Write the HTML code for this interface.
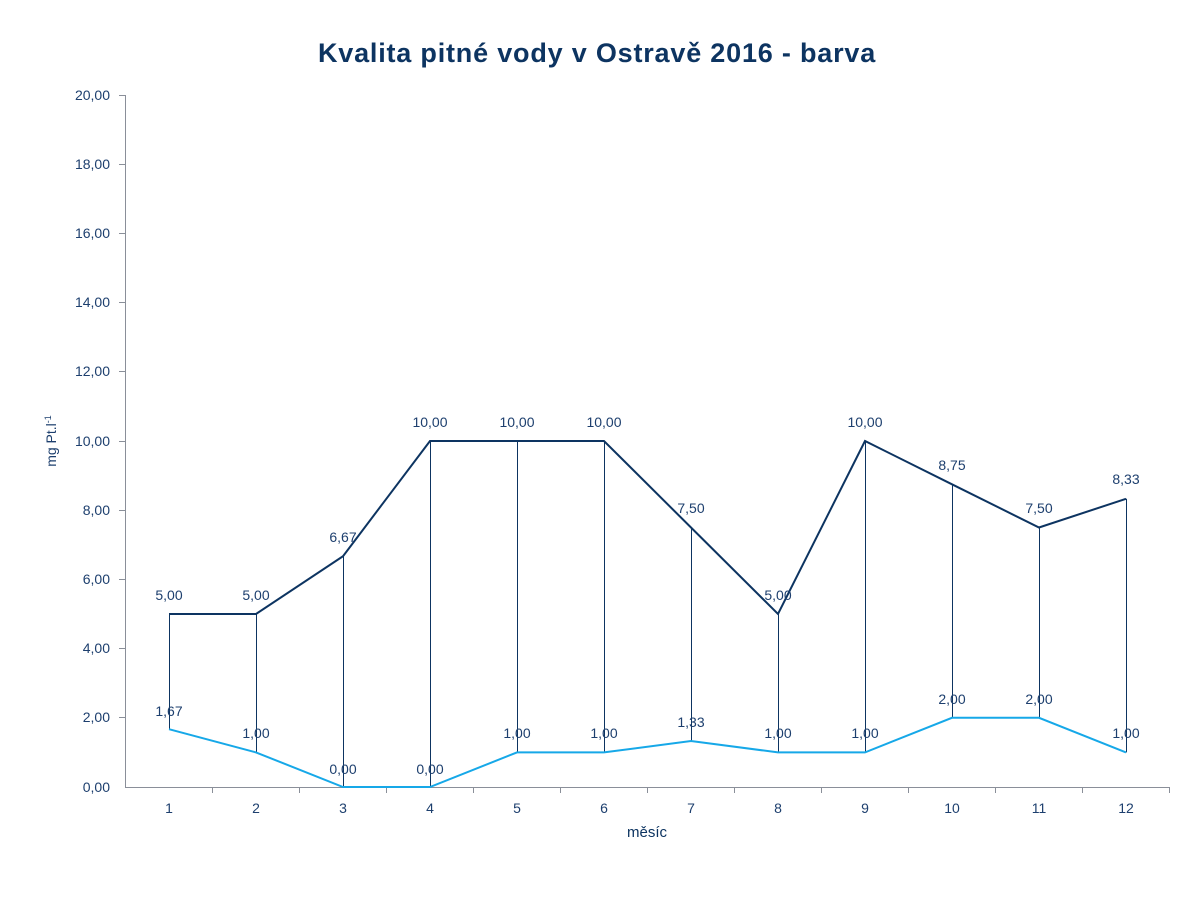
<!DOCTYPE html>
<html><head><meta charset="utf-8"><style>
body{margin:0;background:#fff}
svg{display:block;font-family:"Liberation Sans",sans-serif}
</style></head><body>
<svg width="1200" height="900" viewBox="0 0 1200 900">
<text x="597" y="62" text-anchor="middle" font-size="27" font-weight="bold" letter-spacing="0.8" fill="#0d3461">Kvalita pitné vody v Ostravě 2016 - barva</text>
<g stroke="#8a8f99" stroke-width="1">
<line x1="125.5" y1="95" x2="125.5" y2="787"/>
<line x1="125" y1="787.5" x2="1169" y2="787.5"/>
</g>
<g stroke="#8a8f99" stroke-width="1">
<line x1="119" x2="125" y1="95.5" y2="95.5"/><line x1="119" x2="125" y1="164.5" y2="164.5"/><line x1="119" x2="125" y1="233.5" y2="233.5"/><line x1="119" x2="125" y1="302.5" y2="302.5"/><line x1="119" x2="125" y1="371.5" y2="371.5"/><line x1="119" x2="125" y1="441.5" y2="441.5"/><line x1="119" x2="125" y1="510.5" y2="510.5"/><line x1="119" x2="125" y1="579.5" y2="579.5"/><line x1="119" x2="125" y1="648.5" y2="648.5"/><line x1="119" x2="125" y1="717.5" y2="717.5"/>
<line x1="212.5" x2="212.5" y1="787" y2="793"/><line x1="299.5" x2="299.5" y1="787" y2="793"/><line x1="386.5" x2="386.5" y1="787" y2="793"/><line x1="473.5" x2="473.5" y1="787" y2="793"/><line x1="560.5" x2="560.5" y1="787" y2="793"/><line x1="647.5" x2="647.5" y1="787" y2="793"/><line x1="734.5" x2="734.5" y1="787" y2="793"/><line x1="821.5" x2="821.5" y1="787" y2="793"/><line x1="908.5" x2="908.5" y1="787" y2="793"/><line x1="995.5" x2="995.5" y1="787" y2="793"/><line x1="1082.5" x2="1082.5" y1="787" y2="793"/><line x1="1169.5" x2="1169.5" y1="787" y2="793"/>
</g>
<g font-size="14" fill="#1d3f6e" text-anchor="end">
<text x="110" y="100">20,00</text><text x="110" y="169">18,00</text><text x="110" y="238">16,00</text><text x="110" y="307">14,00</text><text x="110" y="376">12,00</text><text x="110" y="446">10,00</text><text x="110" y="515">8,00</text><text x="110" y="584">6,00</text><text x="110" y="653">4,00</text><text x="110" y="722">2,00</text><text x="110" y="792">0,00</text>
</g>
<g font-size="14" fill="#1d3f6e" text-anchor="middle">
<text x="169" y="813">1</text><text x="256" y="813">2</text><text x="343" y="813">3</text><text x="430" y="813">4</text><text x="517" y="813">5</text><text x="604" y="813">6</text><text x="691" y="813">7</text><text x="778" y="813">8</text><text x="865" y="813">9</text><text x="952" y="813">10</text><text x="1039" y="813">11</text><text x="1126" y="813">12</text>
</g>
<text x="647" y="837" text-anchor="middle" font-size="15" fill="#0d3461">měsíc</text>
<text transform="translate(56,441) rotate(-90)" text-anchor="middle" font-size="14" fill="#1d3f6e">mg Pt.l<tspan font-size="9" dy="-5">-1</tspan></text>
<g stroke="#0d3461" stroke-width="1">
<line x1="169.5" y1="614" x2="169.5" y2="729.2"/><line x1="256.5" y1="614" x2="256.5" y2="752.4"/><line x1="343.5" y1="556.2" x2="343.5" y2="787"/><line x1="430.5" y1="441" x2="430.5" y2="787"/><line x1="517.5" y1="441" x2="517.5" y2="752.4"/><line x1="604.5" y1="441" x2="604.5" y2="752.4"/><line x1="691.5" y1="527.5" x2="691.5" y2="741"/><line x1="778.5" y1="614" x2="778.5" y2="752.4"/><line x1="865.5" y1="441" x2="865.5" y2="752.4"/><line x1="952.5" y1="484.3" x2="952.5" y2="717.8"/><line x1="1039.5" y1="527.5" x2="1039.5" y2="717.8"/><line x1="1126.5" y1="498.8" x2="1126.5" y2="752.4"/>
</g>
<polyline fill="none" stroke="#0d3461" stroke-width="2" points="169,614 256,614 343,556.2 430,441 517,441 604,441 691,527.5 778,614 865,441 952,484.3 1039,527.5 1126,498.8"/>
<polyline fill="none" stroke="#16a8e8" stroke-width="2" points="169,729.2 256,752.4 343,787 430,787 517,752.4 604,752.4 691,741 778,752.4 865,752.4 952,717.8 1039,717.8 1126,752.4"/>
<g font-size="14" fill="#1d3f6e" text-anchor="middle">
<text x="169" y="600">5,00</text><text x="256" y="600">5,00</text><text x="343" y="542">6,67</text><text x="430" y="427">10,00</text><text x="517" y="427">10,00</text><text x="604" y="427">10,00</text><text x="691" y="513">7,50</text><text x="778" y="600">5,00</text><text x="865" y="427">10,00</text><text x="952" y="470">8,75</text><text x="1039" y="513">7,50</text><text x="1126" y="484">8,33</text>
<text x="169" y="716">1,67</text><text x="256" y="738">1,00</text><text x="343" y="774">0,00</text><text x="430" y="774">0,00</text><text x="517" y="738">1,00</text><text x="604" y="738">1,00</text><text x="691" y="727">1,33</text><text x="778" y="738">1,00</text><text x="865" y="738">1,00</text><text x="952" y="704">2,00</text><text x="1039" y="704">2,00</text><text x="1126" y="738">1,00</text>
</g>
</svg>
</body></html>
